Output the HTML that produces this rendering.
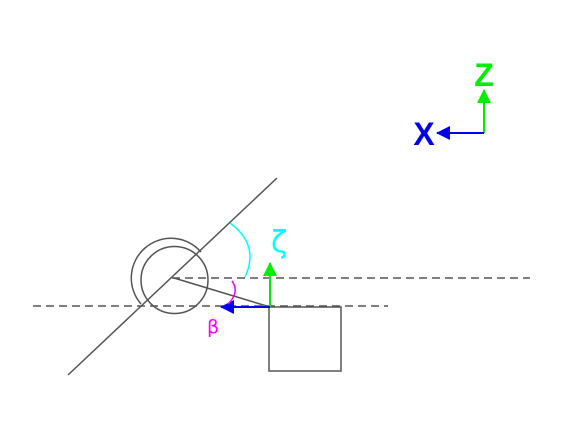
<!DOCTYPE html>
<html><head><style>html,body{margin:0;padding:0;background:#fff}</style></head>
<body>
<svg width="576" height="440" viewBox="0 0 576 440" xmlns="http://www.w3.org/2000/svg" style="display:block">
<defs>
<marker id="ag2" markerWidth="14" markerHeight="14" refX="13" refY="7" orient="auto" markerUnits="userSpaceOnUse"><path d="M0,0 L14,7 L0,14 z" fill="#00ee00"/></marker>
<marker id="ab2" markerWidth="14" markerHeight="14" refX="13" refY="7" orient="auto" markerUnits="userSpaceOnUse"><path d="M0,0 L14,7 L0,14 z" fill="#0000ee"/></marker>
</defs>
<g stroke="#555" stroke-width="1.5" fill="none">
<line x1="68" y1="375" x2="277" y2="178"/>
<circle cx="174.5" cy="280" r="33.5"/>
<path d="M141,304 A39,39 0 1 1 201,252"/>
<line x1="174" y1="278" x2="270" y2="307"/>
<line x1="172" y1="278" x2="530" y2="278" stroke-dasharray="8,5"/>
<line x1="33" y1="306" x2="388" y2="306" stroke-dasharray="8,5"/>
<rect x="269" y="307" width="72" height="64"/>
</g>
<line x1="270" y1="307" x2="270" y2="263" stroke="#00ee00" stroke-width="2" marker-end="url(#ag2)"/>
<line x1="270" y1="307" x2="221" y2="307" stroke="#0000ee" stroke-width="2" marker-end="url(#ab2)"/>
<path d="M230,223 Q260,245 245,277" stroke="#00ffff" stroke-width="1.5" fill="none"/>
<path d="M232,281 Q240,292 228,304" stroke="#ff00ff" stroke-width="1.5" fill="none"/>
<text x="271" y="252" font-family="DejaVu Sans, sans-serif" font-size="30" fill="#00ffff">ζ</text>
<text x="207" y="333" font-family="DejaVu Sans, sans-serif" font-size="19" fill="#ff00ff">β</text>
<line x1="484" y1="133" x2="484" y2="90" stroke="#00ee00" stroke-width="2" marker-end="url(#ag2)"/>
<line x1="484" y1="133" x2="437" y2="133" stroke="#0000ee" stroke-width="2" marker-end="url(#ab2)"/>
<text x="484" y="86" text-anchor="middle" font-family="Liberation Sans, sans-serif" font-weight="bold" font-size="32" fill="#00ee00">Z</text>
<text x="424" y="145" text-anchor="middle" font-family="Liberation Sans, sans-serif" font-weight="bold" font-size="32" fill="#0000ee">X</text>
</svg>
</body></html>
